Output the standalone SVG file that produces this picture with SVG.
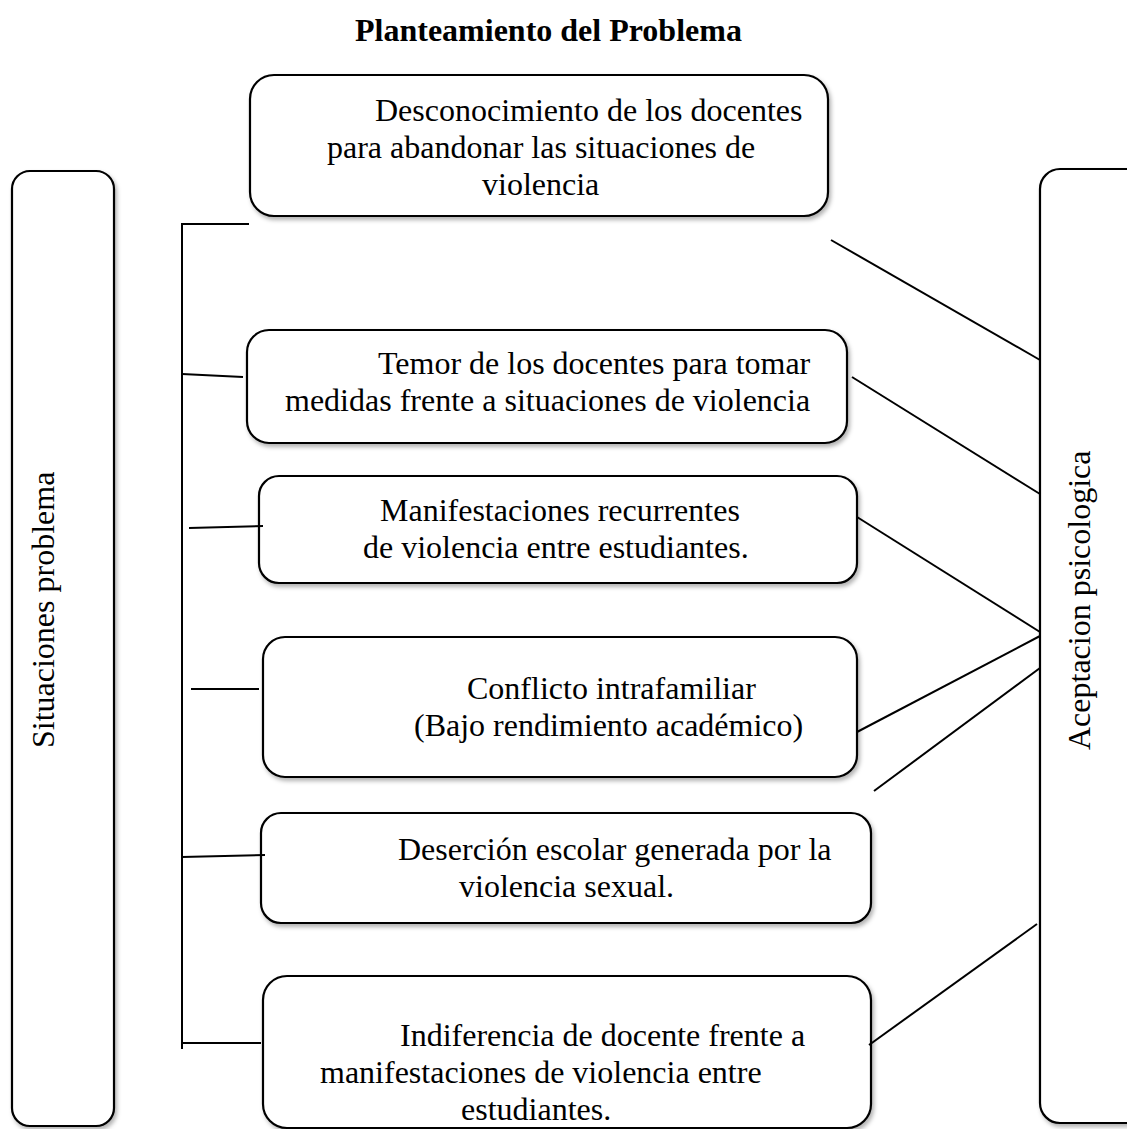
<svg xmlns="http://www.w3.org/2000/svg" width="1127" height="1129" viewBox="0 0 1127 1129">
<style>
.box{fill:#fff;stroke:#000;stroke-width:2.2;filter:url(#sh)}
.t{font-family:"Liberation Serif","Times New Roman",serif;font-size:32px;fill:#000}
.ttl{font-family:"Liberation Serif","Times New Roman",serif;font-size:32px;font-weight:bold;fill:#000}
.ln{stroke:#000;stroke-width:2;fill:none}
</style>
<defs>
<filter id="sh" x="-10%" y="-10%" width="130%" height="130%">
<feDropShadow dx="2" dy="3" stdDeviation="2" flood-color="#000" flood-opacity="0.3"/>
</filter>
</defs>
<rect width="1127" height="1129" fill="#fff"/>
<text class="ttl" x="355" y="41">Planteamiento del Problema</text>

<g id="situaciones">
<rect class="box" x="12" y="171" width="102" height="955" rx="18"/>
<text class="t" transform="translate(54,748) rotate(-90)">Situaciones problema</text>
</g>
<g id="aceptacion">
<rect class="box" x="1040" y="169" width="110" height="954" rx="20"/>
<text class="t" transform="translate(1090,750) rotate(-90)">Aceptacion psicologica</text>
</g>

<g id="n1">
<rect class="box" x="250" y="75" width="578" height="141" rx="24"/>
<text class="t" x="375" y="121">Desconocimiento de los docentes</text>
<text class="t" x="327" y="158">para abandonar las situaciones de</text>
<text class="t" x="482" y="195">violencia</text>
</g>
<g id="n2">
<rect class="box" x="247" y="330" width="600" height="113" rx="22"/>
<text class="t" x="378" y="374">Temor de los docentes para tomar</text>
<text class="t" x="285" y="411">medidas frente a situaciones de violencia</text>
</g>
<g id="n3">
<rect class="box" x="259" y="476" width="598" height="107" rx="20"/>
<text class="t" x="380" y="521">Manifestaciones recurrentes</text>
<text class="t" x="363" y="558">de violencia entre estudiantes.</text>
</g>
<g id="n4">
<rect class="box" x="263" y="637" width="594" height="140" rx="22"/>
<text class="t" x="467" y="699">Conflicto intrafamiliar</text>
<text class="t" x="414" y="736">(Bajo rendimiento académico)</text>
</g>
<g id="n5">
<rect class="box" x="261" y="813" width="610" height="110" rx="20"/>
<text class="t" x="398" y="860">Deserción escolar generada por la</text>
<text class="t" x="459" y="897">violencia sexual.</text>
</g>
<g id="n6">
<rect class="box" x="263" y="976" width="608" height="152" rx="24"/>
<text class="t" x="400" y="1046">Indiferencia de docente frente a</text>
<text class="t" x="320" y="1083">manifestaciones de violencia entre</text>
<text class="t" x="461" y="1120">estudiantes.</text>
</g>

<g id="connectors" class="ln">
<line x1="182" y1="224" x2="182" y2="1049"/>
<line x1="181" y1="224" x2="249" y2="224"/>
<line x1="182" y1="374" x2="243" y2="377"/>
<line x1="189" y1="528" x2="263" y2="526"/>
<line x1="191" y1="689" x2="259" y2="689"/>
<line x1="182" y1="857" x2="265" y2="855"/>
<line x1="182" y1="1043" x2="261" y2="1043"/>
<line x1="831" y1="240" x2="1040" y2="360"/>
<line x1="852" y1="377" x2="1040" y2="494"/>
<line x1="857" y1="517" x2="1040" y2="632"/>
<line x1="857" y1="732" x2="1040" y2="636"/>
<line x1="874" y1="791" x2="1040" y2="668"/>
<line x1="869" y1="1045" x2="1037" y2="924"/>
</g>
</svg>
